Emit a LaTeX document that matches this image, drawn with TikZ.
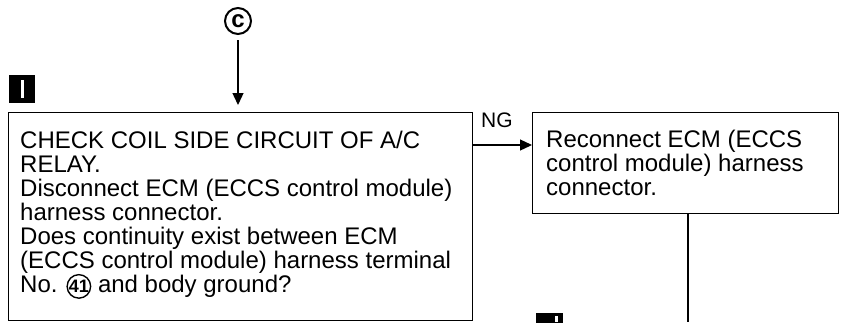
\documentclass[tikz,border=0pt]{standalone}
\usepackage{fontspec}
\setmainfont{Liberation Sans}
\usetikzlibrary{arrows.meta}
\newcommand{\mainsz}{\fontsize{24pt}{24pt}\selectfont}
\newcommand{\circnum}[1]{\tikz[baseline=(cn.base)]\node[circle,draw,line width=1.4pt,inner sep=0pt,minimum size=23pt,font=\fontsize{18pt}{18pt}\selectfont\bfseries](cn){#1};}
\tikzset{
  stepbox/.style={draw,line width=1.3pt,inner sep=0pt,anchor=north west},
  steptext/.style={anchor=north west,align=left,inner sep=0pt,font=\mainsz},
  arr/.style={line width=1.3pt,-{Triangle[length=12pt,width=11pt]}},
  plain/.style={line width=1.3pt},
  marker/.style={fill=black,inner sep=0pt,anchor=north west}
}
\begin{document}
\begin{tikzpicture}[x=1pt,y=-1pt]
\useasboundingbox (0,0) rectangle (841,322);
% entry symbol
\node[circle,draw,line width=2pt,minimum size=26pt,inner sep=0pt,font=\fontsize{24pt}{24pt}\selectfont\bfseries] (c) at (238,21) {c};
% step marker
\node[marker,minimum width=26pt,minimum height=28pt] (mark1) at (9,75) {};
\fill[white] (21,80) rectangle (24,98);
% boxes
\node[stepbox,minimum width=464pt,minimum height=208pt] (check) at (8,112) {};
\node[steptext] (checktxt) at (20,131) {CHECK COIL SIDE CIRCUIT OF A/C\\RELAY.\\Disconnect ECM (ECCS control module)\\harness connector.\\Does continuity exist between ECM\\(ECCS control module) harness terminal\\No. \circnum{41} and body ground?};
\node[stepbox,minimum width=306pt,minimum height=101pt] (reconn) at (532,112) {};
\node[steptext] (reconntxt) at (546,130) {Reconnect ECM (ECCS\\control module) harness\\connector.};
% connectors
\draw[arr,shorten <=5pt,shorten >=7pt] (c) -- (c |- check.north);
\coordinate (ngy) at (0,145);
\draw[arr] (check.east |- ngy) -- (reconn.west |- ngy);
\node[font=\fontsize{21pt}{21pt}\selectfont,anchor=base west,inner sep=0pt] (ng) at (481,127) {NG};
\coordinate (vx) at (688,322);
\draw[plain] (reconn.south -| vx) -- (vx);
% next step marker (cut off)
\node[marker,minimum width=27pt,minimum height=12pt] (mark2) at (536,313) {};
\fill[white] (555,316) rectangle (558,322);
\end{tikzpicture}
\end{document}
